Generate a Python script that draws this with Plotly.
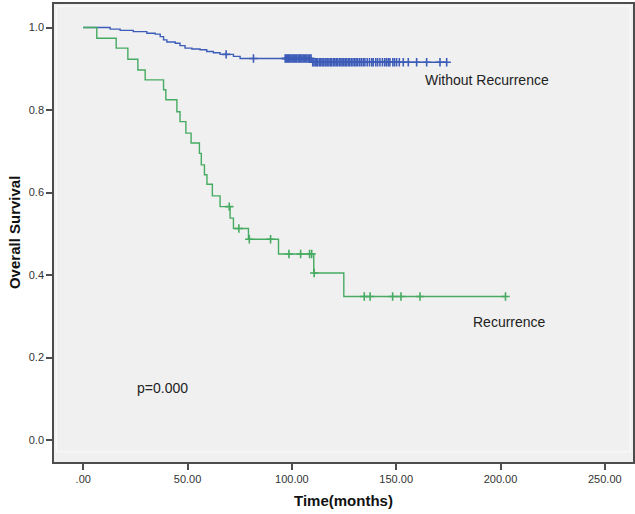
import plotly.graph_objects as go
import bisect

# Recurrence group (green): event times and survival after each step
rec_times = [6.5, 15.8, 21.4, 26.2, 29.7, 38.5, 39.6, 44.9, 46.4, 49.2, 51.7, 55.7, 56.6,
             58.1, 59.3, 61.9, 65.6, 70.4, 72.0, 79.2, 93.6, 110.5, 124.9]
rec_surv = [0.974, 0.950, 0.923, 0.897, 0.873, 0.849, 0.825, 0.796, 0.772, 0.744, 0.720,
            0.695, 0.667, 0.643, 0.620, 0.592, 0.566, 0.538, 0.513, 0.487, 0.451, 0.405, 0.348]
rec_censor = [70.0, 74.6, 79.6, 89.8, 98.6, 104.2, 108.5, 109.5, 110.7, 134.7, 137.5,
              148.3, 152.3, 161.4, 202.4]

# Without recurrence group (blue)
norec_times = [12.9, 17.7, 24.0, 30.5, 34.5, 36.9, 38.5, 40.1, 44.1, 46.4, 48.8, 52.1, 56.0,
               59.2, 62.4, 65.6, 72.0, 75.2, 109.5]
norec_surv = [0.996, 0.993, 0.990, 0.986, 0.984, 0.978, 0.970, 0.965, 0.962, 0.956, 0.950,
              0.948, 0.946, 0.942, 0.939, 0.935, 0.930, 0.925, 0.916]
norec_censor = [68.5, 81.6,
                96.8, 97.3, 97.9, 98.4, 98.8, 99.5, 100.1, 100.6, 101.2, 101.9, 102.3, 103.0,
                103.6, 104.1, 104.8, 105.4, 106.0, 106.7, 107.2, 107.9, 108.6, 109.2,
                110.0, 110.6, 111.3, 111.9, 112.4, 113.2, 113.8, 114.5, 115.1, 115.9, 116.4,
                117.2, 117.8, 118.6, 119.1, 119.9, 120.6, 121.3, 122.0, 122.8, 123.5, 124.1,
                124.9, 125.6, 126.2, 127.0, 127.7, 128.5, 129.3, 130.1, 130.8, 131.6, 132.5,
                133.3, 134.2, 135.0, 136.1, 137.2, 138.3, 139.0, 140.2, 141.1, 142.2, 143.4,
                144.5, 145.3, 146.2, 147.0, 148.4, 149.2, 150.2, 151.5, 153.4, 155.8, 159.8,
                164.6, 171.0, 174.2]

x_ticks = [0, 50, 100, 150, 200, 250]
x_tick_labels = [".00", "50.00", "100.00", "150.00", "200.00", "250.00"]
y_ticks = [0.0, 0.2, 0.4, 0.6, 0.8, 1.0]
y_tick_labels = ["0.0", "0.2", "0.4", "0.6", "0.8", "1.0"]

GREEN = "#46ab62"
BLUE = "#3d5cb8"


def step_path(times, surv, end):
    xs = [0] + list(times) + [end]
    ys = [1.0] + list(surv) + [surv[-1]]
    return xs, ys


def surv_at(times, surv, t):
    i = bisect.bisect_right(times, t)
    return 1.0 if i == 0 else surv[i - 1]


fig = go.Figure()

for times, surv, cens, color in [
    (norec_times, norec_surv, norec_censor, BLUE),
    (rec_times, rec_surv, rec_censor, GREEN),
]:
    xs, ys = step_path(times, surv, max(cens))
    fig.add_trace(go.Scatter(x=xs, y=ys, mode="lines", line=dict(color=color, width=1.4, shape="hv"),
                             hoverinfo="skip", showlegend=False))
    fig.add_trace(go.Scatter(x=cens, y=[surv_at(times, surv, t) for t in cens], mode="markers",
                             marker=dict(symbol="cross-thin", size=6, line=dict(color=color, width=1.6)),
                             showlegend=False))

font_family = "Arial, Liberation Sans, sans-serif"

fig.add_annotation(x=163, y=0.873, text="Without Recurrence", showarrow=False, xanchor="left",
                   yanchor="middle", font=dict(family=font_family, size=14, color="#222"))
fig.add_annotation(x=186, y=0.287, text="Recurrence", showarrow=False, xanchor="left",
                   yanchor="middle", font=dict(family=font_family, size=14, color="#222"))
fig.add_annotation(x=25, y=0.127, text="p=0.000", showarrow=False, xanchor="left",
                   yanchor="middle", font=dict(family=font_family, size=14, color="#222"))

# axis titles placed in paper coordinates
fig.add_annotation(xref="paper", yref="paper", x=0.5, y=-0.083, text="<b>Time(months)</b>",
                   showarrow=False, xanchor="center", yanchor="middle",
                   font=dict(family=font_family, size=15, color="#111"))
fig.add_annotation(xref="paper", yref="paper", x=-0.069, y=0.5, text="<b>Overall Survival</b>",
                   showarrow=False, xanchor="center", yanchor="middle", textangle=-90,
                   font=dict(family=font_family, size=15, color="#111"))

# subtle inner frame
fig.add_shape(type="rect", xref="paper", yref="paper", x0=0.004, x1=0.995, y0=0.022, y1=0.995,
              line=dict(color="#fbfbfb", width=1), layer="below")

fig.update_layout(
    width=635, height=514,
    margin=dict(l=54, r=2, t=4, b=52),
    paper_bgcolor="white",
    plot_bgcolor="#f0f0f0",
    font=dict(family=font_family, color="#333"),
    showlegend=False,
)
fig.update_xaxes(range=[-14, 263.5], tickvals=x_ticks, ticktext=x_tick_labels, showgrid=False,
                 zeroline=False, showline=True, mirror=True, linecolor="#4d4d4d", linewidth=1.5,
                 ticks="outside", ticklen=6, tickwidth=1.5, tickcolor="#4d4d4d", automargin=False,
                 tickfont=dict(size=11, color="#333"))
fig.update_yaxes(range=[-0.053, 1.057], tickvals=y_ticks, ticktext=y_tick_labels, showgrid=False,
                 zeroline=False, showline=True, mirror=True, linecolor="#4d4d4d", linewidth=1.5,
                 ticks="outside", ticklen=6, tickwidth=1.5, tickcolor="#4d4d4d", automargin=False,
                 tickfont=dict(size=11, color="#333"))

fig.write_html("out.html", config={"displayModeBar": False},
               post_script="document.body.style.margin='0';document.body.style.overflow='hidden';")
